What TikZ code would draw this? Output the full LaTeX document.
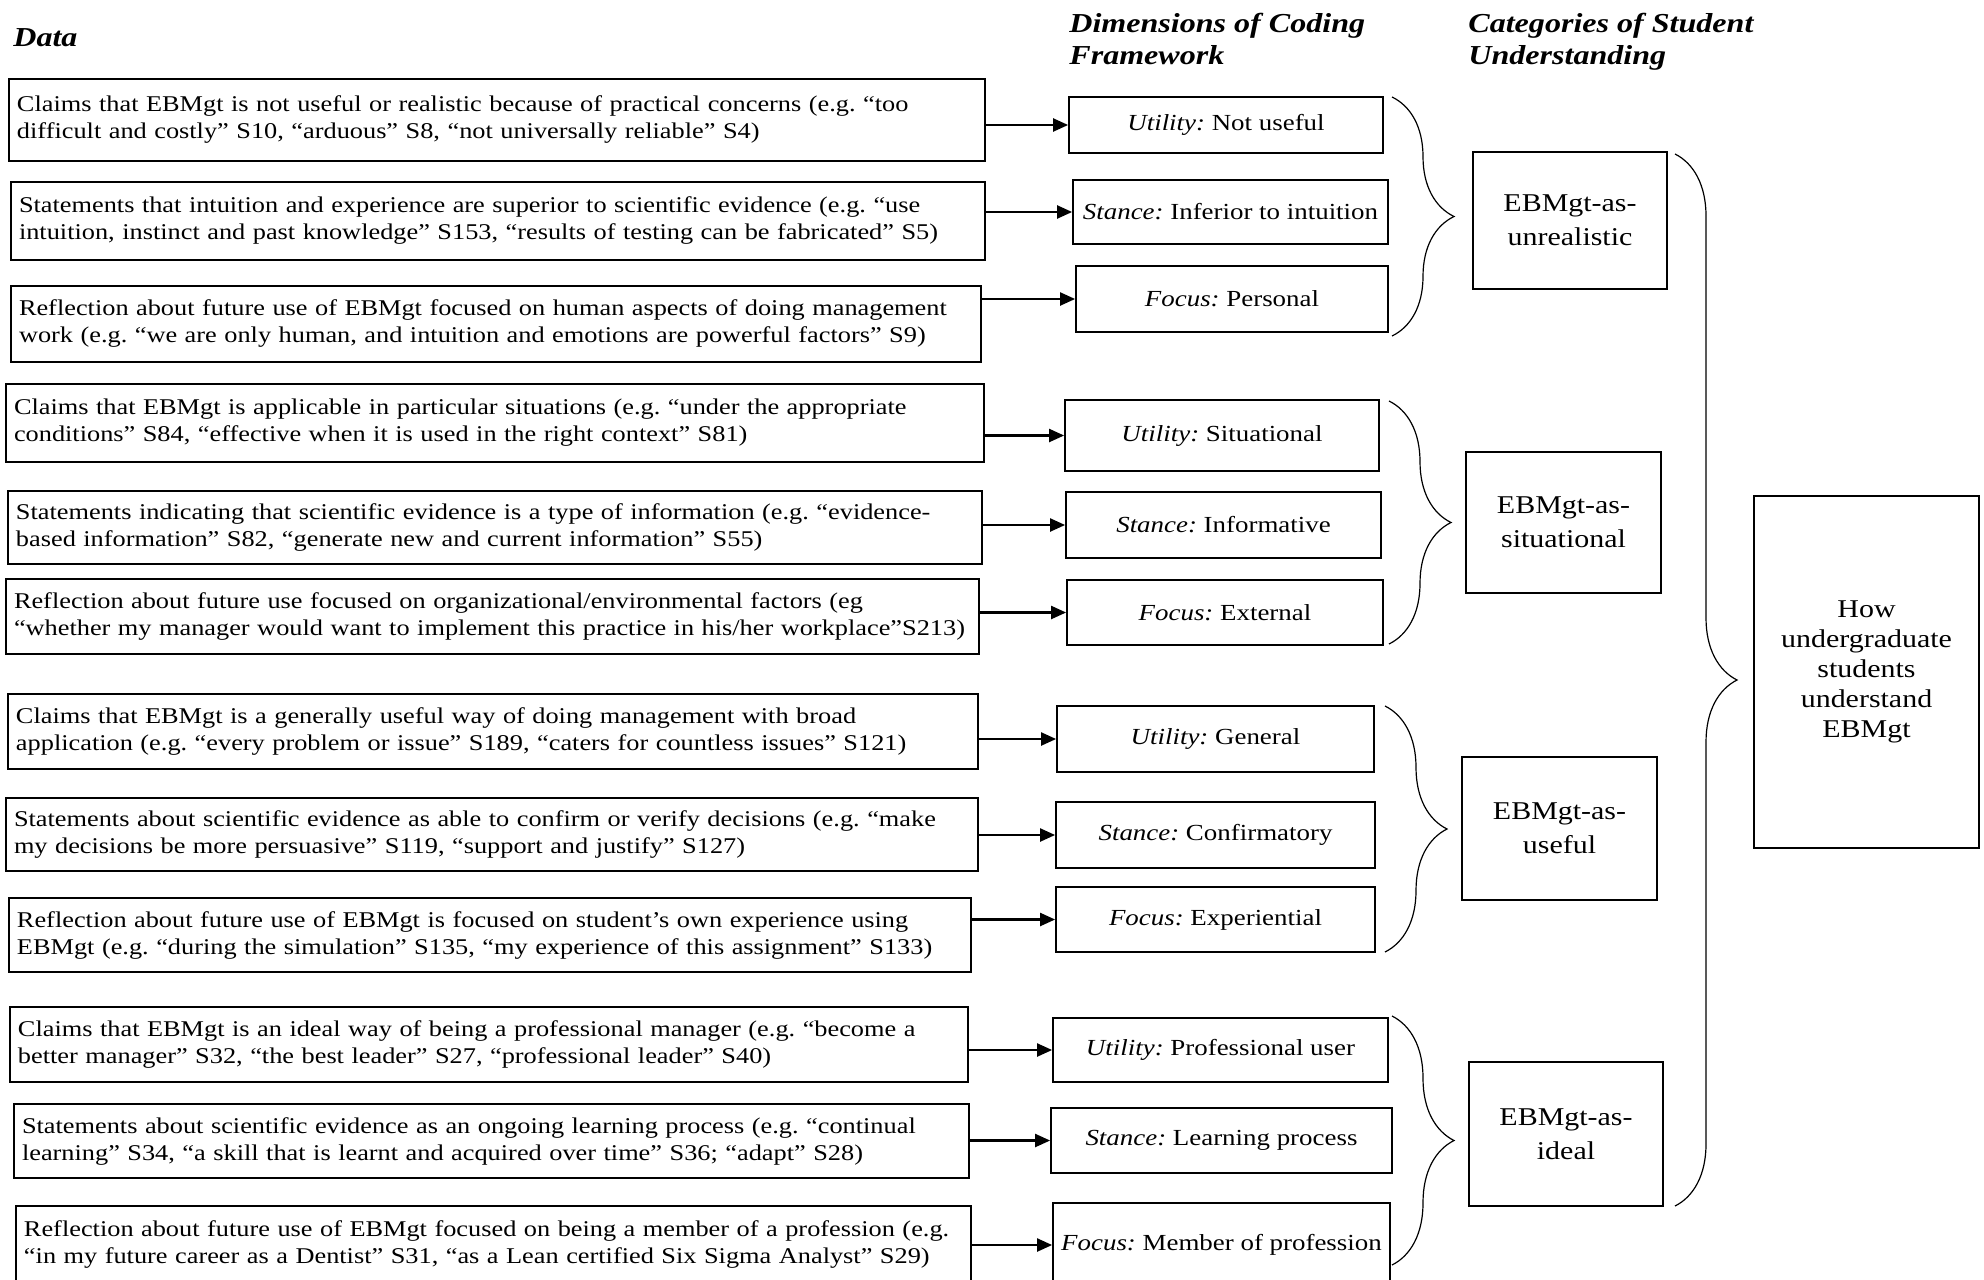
\documentclass[tikz,border=0pt]{standalone}
\usepackage{fontspec}
\setmainfont{Liberation Serif}[FakeStretch=1.17]
\frenchspacing
\usetikzlibrary{arrows.meta,decorations.pathreplacing}

\begin{document}
\begin{tikzpicture}[x=0.5pt,y=-0.5pt,
    datbox/.style={rectangle,draw,line width=0.9pt,align=left,inner xsep=4pt,text width=#1,font=\fontsize{11.25}{13.5}\selectfont},
    dimbox/.style={rectangle,draw,line width=0.9pt,align=center,inner sep=2pt,font=\fontsize{11.5}{14}\selectfont},
    catbox/.style={rectangle,draw,line width=0.9pt,align=center,font=\fontsize{12.8}{17}\selectfont},
    headtxt/.style={anchor=north west,inner sep=0pt,align=left,font=\fontsize{13.7}{16}\selectfont\bfseries\itshape},
    arr/.style={-{Triangle[length=7.5pt,width=6.5pt]},line width=1.1pt},
    grpbrace/.style={decorate,decoration={brace,amplitude=31pt},line width=0.6pt}]
    \useasboundingbox (0,0) rectangle (1984,1279) ;

    \node[headtxt] (h_data) at (13,28) {Data} ;
    \node[headtxt] (h_dim) at (1069,13) {Dimensions of Coding\\Framework} ;
    \node[headtxt] (h_cat) at (1468,13) {Categories of Student\\Understanding} ;

    % data
    \node[datbox=480pt,minimum height=41pt] (data1) at (497,120) {Claims that EBMgt is not useful or realistic because of practical concerns (e.g. “too\\difficult and costly” S10, “arduous” S8, “not universally reliable” S4)} ;
    \node[datbox=479pt,minimum height=39pt] (data2) at (498,221) {Statements that intuition and experience are superior to scientific evidence (e.g. “use\\intuition, instinct and past knowledge” S153, “results of testing can be fabricated” S5)} ;
    \node[datbox=477pt,minimum height=38pt] (data3) at (496,324) {Reflection about future use of EBMgt focused on human aspects of doing management\\work (e.g. “we are only human, and intuition and emotions are powerful factors” S9)} ;
    \node[datbox=481pt,minimum height=39pt] (data4) at (495,423) {Claims that EBMgt is applicable in particular situations (e.g. “under the appropriate\\conditions” S84, “effective when it is used in the right context” S81)} ;
    \node[datbox=479pt,minimum height=36.5pt] (data5) at (495,527.5) {Statements indicating that scientific evidence is a type of information (e.g. “evidence-\\based information” S82, “generate new and current information” S55)} ;
    \node[datbox=478.5pt,minimum height=37.5pt] (data6) at (492.5,616.5) {Reflection about future use focused on organizational/environmental factors (eg\\“whether my manager would want to implement this practice in his/her workplace”S213)} ;
    \node[datbox=477pt,minimum height=37.5pt] (data7) at (493,731.5) {Claims that EBMgt is a generally useful way of doing management with broad\\application (e.g. “every problem or issue” S189, “caters for countless issues” S121)} ;
    \node[datbox=478pt,minimum height=36.5pt] (data8) at (492,834.5) {Statements about scientific evidence as able to confirm or verify decisions (e.g. “make\\my decisions be more persuasive” S119, “support and justify” S127)} ;
    \node[datbox=473pt,minimum height=37pt] (data9) at (490,935) {Reflection about future use of EBMgt is focused on student’s own experience using\\EBMgt (e.g. “during the simulation” S135, “my experience of this assignment” S133)} ;
    \node[datbox=471pt,minimum height=37.5pt] (data10) at (489,1044.5) {Claims that EBMgt is an ideal way of being a professional manager (e.g. “become a\\better manager” S32, “the best leader” S27, “professional leader” S40)} ;
    \node[datbox=469.5pt,minimum height=37pt] (data11) at (491.5,1141) {Statements about scientific evidence as an ongoing learning process (e.g. “continual\\learning” S34, “a skill that is learnt and acquired over time” S36; “adapt” S28)} ;
    \node[datbox=469.5pt,minimum height=38pt] (data12) at (493.5,1244) {Reflection about future use of EBMgt focused on being a member of a profession (e.g.\\“in my future career as a Dentist” S31, “as a Lean certified Six Sigma Analyst” S29)} ;

    % dimensions
    \node[dimbox,minimum width=157pt,minimum height=28pt] (dim1) at (1226,125) {\textit{Utility:} Not useful} ;
    \node[dimbox,minimum width=157.5pt,minimum height=32pt] (dim2) at (1230.5,212) {\textit{Stance:} Inferior to intuition} ;
    \node[dimbox,minimum width=156pt,minimum height=33pt] (dim3) at (1232,299) {\textit{Focus:} Personal} ;
    \node[dimbox,minimum width=157pt,minimum height=35.5pt] (dim4) at (1222,435.5) {\textit{Utility:} Situational} ;
    \node[dimbox,minimum width=157.5pt,minimum height=33pt] (dim5) at (1223.5,525) {\textit{Stance:} Informative} ;
    \node[dimbox,minimum width=158pt,minimum height=32.5pt] (dim6) at (1225,612.5) {\textit{Focus:} External} ;
    \node[dimbox,minimum width=158.5pt,minimum height=33pt] (dim7) at (1215.5,739) {\textit{Utility:} General} ;
    \node[dimbox,minimum width=159.5pt,minimum height=33pt] (dim8) at (1215.5,835) {\textit{Stance:} Confirmatory} ;
    \node[dimbox,minimum width=159.5pt,minimum height=32.5pt] (dim9) at (1215.5,919.5) {\textit{Focus:} Experiential} ;
    \node[dimbox,minimum width=167.5pt,minimum height=32pt] (dim10) at (1220.5,1050) {\textit{Utility:} Professional user} ;
    \node[dimbox,minimum width=170.5pt,minimum height=32.5pt] (dim11) at (1221.5,1140.5) {\textit{Stance:} Learning process} ;
    \node[dimbox,minimum width=168.5pt,minimum height=42pt] (dim12) at (1221.5,1245) {\textit{Focus:} Member of profession} ;

    % categories
    \node[catbox,minimum width=97pt,minimum height=68.5pt] (cat_unreal) at (1570,220.5) {EBMgt-as-\\unrealistic} ;
    \node[catbox,minimum width=97.5pt,minimum height=70.5pt] (cat_situ) at (1563.5,522.5) {EBMgt-as-\\situational} ;
    \node[catbox,minimum width=97.5pt,minimum height=71.5pt] (cat_useful) at (1559.5,828.5) {EBMgt-as-\\useful} ;
    \node[catbox,minimum width=97pt,minimum height=72pt] (cat_ideal) at (1566,1134) {EBMgt-as-\\ideal} ;
    \node[catbox,minimum width=112.5pt,minimum height=176pt,font=\fontsize{12.8}{15}\selectfont] (how) at (1866.5,672) {How\\undergraduate\\students\\understand\\EBMgt} ;

    \foreach \i in {1,...,12}
        \draw[arr] (data\i.east |- dim\i) -- (dim\i) ;

    \coordinate (b1_top) at (1392,97) ;
    \coordinate (b1_bot) at (1392,336) ;
    \coordinate (b2_top) at (1389,401) ;
    \coordinate (b2_bot) at (1389,644) ;
    \coordinate (b3_top) at (1385,706) ;
    \coordinate (b3_bot) at (1385,952) ;
    \coordinate (b4_top) at (1392,1016) ;
    \coordinate (b4_bot) at (1392,1265) ;
    \coordinate (big_top) at (1675,154) ;
    \coordinate (big_bot) at (1675,1206) ;

    \draw[grpbrace] (b1_top) -- (b1_bot) ;
    \draw[grpbrace] (b2_top) -- (b2_bot) ;
    \draw[grpbrace] (b3_top) -- (b3_bot) ;
    \draw[grpbrace] (b4_top) -- (b4_bot) ;
    \draw[grpbrace] (big_top) -- (big_bot) ;
\end{tikzpicture}
\end{document}
